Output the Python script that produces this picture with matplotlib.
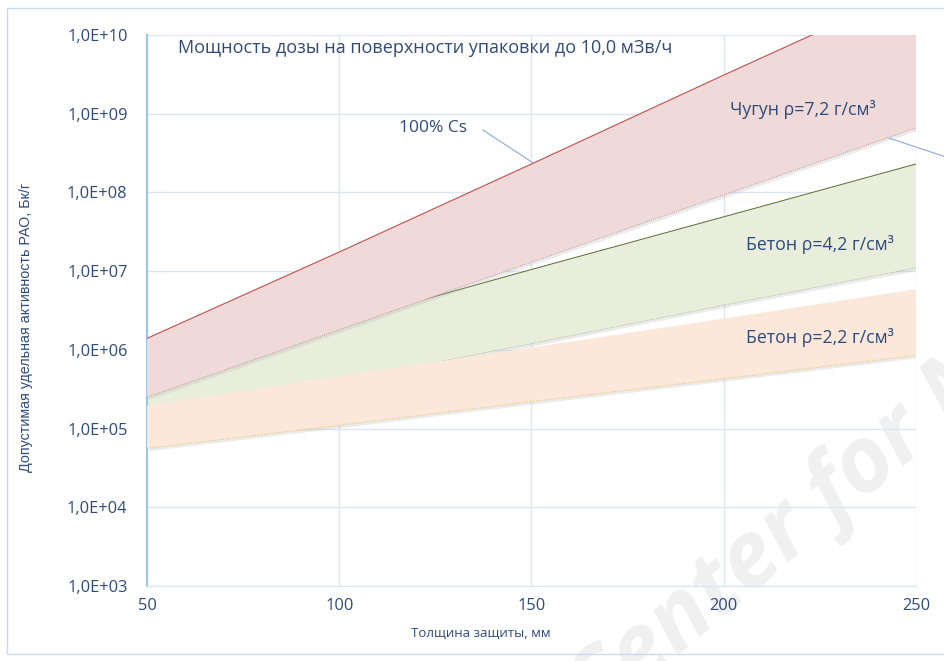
import numpy as np
import matplotlib.pyplot as plt
import matplotlib.patches as patches
import matplotlib.patheffects as pe
from matplotlib.ticker import FixedLocator, FuncFormatter, NullLocator

plt.rcParams['font.family'] = ['Open Sans', 'DejaVu Sans']

# thickness of shielding, mm
thickness = [50, 100, 150, 200, 250]

# permissible specific activity, Bq/g (band edges)
iron_upper = [1.4e6, 1.75e7, 2.3e8, 3.1e9, 4.0e10]     # 100% Cs
iron_lower = [2.5e5, 1.8e6, 1.3e7, 9.3e7, 6.6e8]
concrete42_upper = [4.6e5, 2.2e6, 1.05e7, 4.9e7, 2.3e8]
concrete42_lower = [1.3e5, 4.0e5, 1.2e6, 3.7e6, 1.1e7]
concrete22_upper = [1.95e5, 4.6e5, 1.07e6, 2.5e6, 5.9e6]
concrete22_lower = [5.6e4, 1.1e5, 2.2e5, 4.3e5, 8.5e5]

y_ticks = [1e3, 1e4, 1e5, 1e6, 1e7, 1e8, 1e9, 1e10]
x_ticks = [50, 100, 150, 200, 250]

txt_col = '#2F4A7A'
grid_col = '#DCE6F2'

fig = plt.figure(figsize=(9.44, 6.61), dpi=100)
ax = fig.add_axes([0.1557, 0.1135, 0.8146, 0.8335])
ax.patch.set_visible(False)

shadow = [pe.SimplePatchShadow(offset=(1.5, -2), shadow_rgbFace='#b0b0b0', alpha=0.25), pe.Normal()]

# bands: green first, then orange over it, red on top
b = ax.fill_between(thickness, concrete42_lower, concrete42_upper, color='#E9EEDC', lw=0, zorder=2)
b.set_path_effects(shadow)
b = ax.fill_between(thickness, concrete22_lower, concrete22_upper, color='#FCE8DA', lw=0, zorder=3)
b.set_path_effects(shadow)
b = ax.fill_between(thickness, iron_lower, iron_upper, color='#F0D9D9', lw=0, zorder=4)
b.set_path_effects(shadow)

# band edges
ax.plot(thickness, iron_upper, color='#C0504D', lw=0.8, zorder=5)
ax.plot(thickness, iron_lower, color='#B08080', lw=0.6, ls=':', zorder=5)
ax.plot(thickness, concrete42_upper, color='#5A6B34', lw=0.7, zorder=3.5)
ax.plot(thickness, concrete42_lower, color='#8C9A70', lw=0.5, ls=':', zorder=2.5)
ax.plot(thickness, concrete22_lower, color='#E8C060', lw=0.8, ls=':', zorder=3.5)

ax.set_yscale('log')
ax.set_xlim(50, 250)
ax.set_ylim(1e3, 1e10)
ax.xaxis.set_major_locator(FixedLocator(x_ticks))
ax.yaxis.set_major_locator(FixedLocator(y_ticks))
ax.yaxis.set_minor_locator(NullLocator())
ax.yaxis.set_major_formatter(FuncFormatter(lambda v, p: '1,0E+%02d' % int(round(np.log10(v)))))
ax.grid(True, color=grid_col, lw=1.0, zorder=0)
ax.set_axisbelow(True)

for s in ['top', 'right']:
    ax.spines[s].set_visible(False)
ax.spines['left'].set_color('#9DC3E6')
ax.spines['left'].set_linewidth(1.5)
ax.spines['bottom'].set_color(grid_col)
ax.spines['bottom'].set_linewidth(1.0)
ax.tick_params(length=0, labelsize=11.8, labelcolor=txt_col)
ax.tick_params(axis='y', pad=14)
ax.tick_params(axis='x', pad=9)

ax.set_xlabel('Толщина защиты, мм', fontsize=9.5, color=txt_col, va='top')
ax.xaxis.set_label_coords(0.434, -0.075)
ax.set_ylabel('Допустимая удельная активность РАО, Бк/г', fontsize=10.3, color=txt_col,
              family=['Liberation Sans Narrow', 'Liberation Sans', 'DejaVu Sans'])
ax.yaxis.set_label_coords(-0.148, 0.47)

# annotations
ax.text(58, 6.8e9, 'Мощность дозы на поверхности упаковки до 10,0 мЗв/ч',
        fontsize=13, color=txt_col, va='center', ha='left', zorder=6)
ax.text(124.4, 6.6e8, '100% Cs', fontsize=12.5, color=txt_col, ha='center', va='center', zorder=6)
ax.plot([137.4, 150.3], [6.2e8, 2.4e8], color='#8EA9DB', lw=0.8, zorder=6)
ax.text(220.5, 1.12e9, 'Чугун ρ=7,2 г/см³', fontsize=12.8, color=txt_col, ha='center', va='center', zorder=6)
ax.plot([243, 258], [4.9e8, 2.8e8], color='#8EA9DB', lw=0.8, zorder=6, clip_on=False)
ax.text(225, 2.2e7, 'Бетон ρ=4,2 г/см³', fontsize=12.8, color=txt_col, ha='center', va='center', zorder=6)
ax.text(225, 1.45e6, 'Бетон ρ=2,2 г/см³', fontsize=12.8, color=txt_col, ha='center', va='center', zorder=6)

# outer chart frame
fig.patches.append(patches.Rectangle((0.0075, 0.01), 1.1, 0.978, transform=fig.transFigure,
                                     fill=False, edgecolor='#C9DAEE', lw=1.0))

# faint watermark, behind the axes content
fig.text(0.83, 0.19, 'Center for N', fontsize=66, fontweight='bold', style='italic',
         color='#F0F0F0', rotation=40, rotation_mode='anchor', ha='center', va='center', zorder=-1)

fig.savefig('out.png', dpi=100)
